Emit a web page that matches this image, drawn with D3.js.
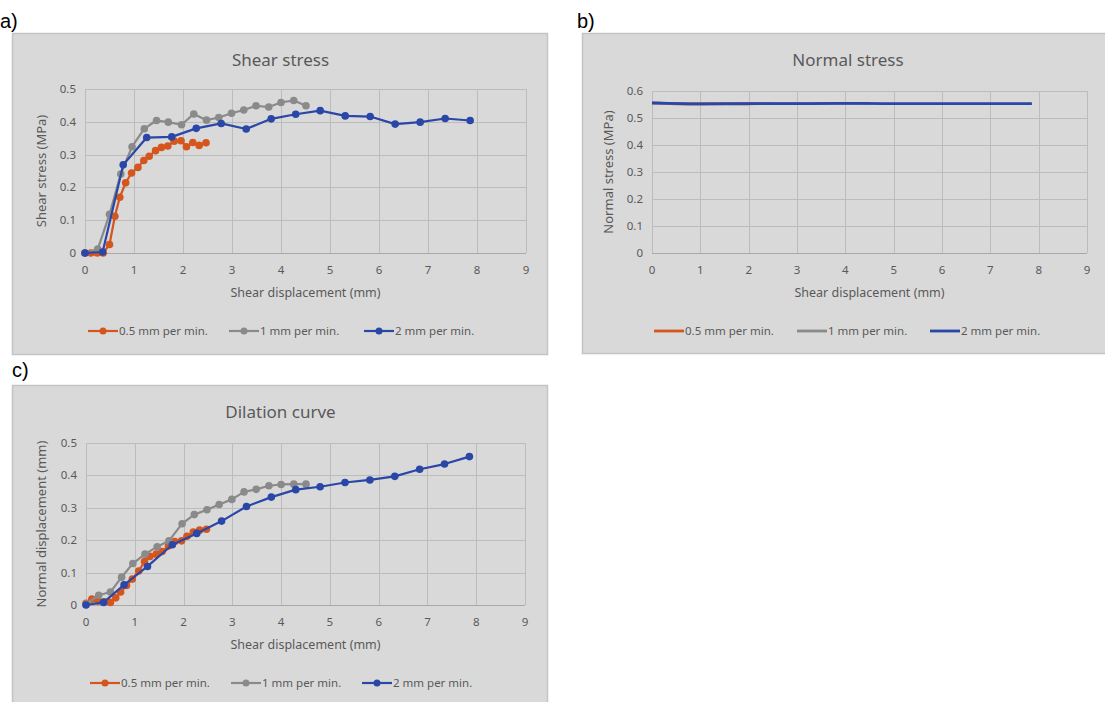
<!DOCTYPE html>
<html>
<head>
<meta charset="utf-8">
<script src="https://cdn.jsdelivr.net/npm/d3@7"></script>
<style>
  body { margin: 0; background: #fff; }
  text { font-family: "Noto Sans", "Open Sans", sans-serif; fill: #595959; }
  .panel-label { font-family: "Liberation Sans", Arial, sans-serif; fill: #000; font-size: 20px; }
</style>
</head>
<body>
<script>
// ---- data ----
var seriesNames = ["0.5 mm per min.", "1 mm per min.", "2 mm per min."];
var xTicks = [0, 1, 2, 3, 4, 5, 6, 7, 8, 9];

// 0.5 mm per min.
var dispSlow   = [0, 0.12, 0.25, 0.37, 0.5, 0.61, 0.71, 0.83, 0.95, 1.08, 1.2, 1.31, 1.44, 1.56, 1.69, 1.82, 1.96, 2.07, 2.2, 2.33, 2.47];
var shearSlow  = [0, 0, 0, 0, 0.026, 0.112, 0.17, 0.214, 0.244, 0.261, 0.282, 0.295, 0.312, 0.322, 0.326, 0.341, 0.342, 0.324, 0.337, 0.328, 0.336];
var normalSlow = [0.555, 0.555, 0.554, 0.553, 0.552, 0.552, 0.552, 0.552, 0.552, 0.552, 0.553, 0.553, 0.553, 0.553, 0.552, 0.552, 0.552, 0.553, 0.553, 0.553, 0.553];
var dilSlow    = [0.005, 0.018, 0.012, 0.01, 0.008, 0.022, 0.04, 0.06, 0.08, 0.105, 0.134, 0.15, 0.157, 0.165, 0.182, 0.196, 0.198, 0.212, 0.225, 0.231, 0.234];

// 1 mm per min.
var dispMid   = [0, 0.26, 0.5, 0.73, 0.96, 1.21, 1.46, 1.7, 1.97, 2.22, 2.48, 2.73, 2.99, 3.24, 3.49, 3.75, 4.0, 4.26, 4.51];
var shearMid  = [0, 0.012, 0.118, 0.241, 0.324, 0.379, 0.404, 0.399, 0.391, 0.424, 0.405, 0.413, 0.426, 0.436, 0.449, 0.445, 0.459, 0.465, 0.449];
var normalMid = [0.555, 0.554, 0.553, 0.552, 0.552, 0.552, 0.553, 0.552, 0.552, 0.553, 0.553, 0.553, 0.553, 0.553, 0.554, 0.554, 0.554, 0.554, 0.554];
var dilMid    = [0.003, 0.03, 0.04, 0.086, 0.128, 0.157, 0.18, 0.198, 0.251, 0.279, 0.294, 0.31, 0.326, 0.349, 0.357, 0.368, 0.372, 0.373, 0.373];

// 2 mm per min.
var dispFast   = [0, 0.36, 0.78, 1.26, 1.77, 2.27, 2.78, 3.29, 3.8, 4.3, 4.8, 5.31, 5.82, 6.33, 6.84, 7.35, 7.86];
var shearFast  = [0, 0.003, 0.269, 0.352, 0.354, 0.38, 0.395, 0.378, 0.409, 0.423, 0.434, 0.418, 0.416, 0.393, 0.399, 0.41, 0.404];
var normalFast = [0.556, 0.554, 0.552, 0.552, 0.553, 0.553, 0.553, 0.553, 0.554, 0.554, 0.553, 0.553, 0.553, 0.553, 0.553, 0.553, 0.553];
var dilFast    = [0, 0.008, 0.062, 0.119, 0.186, 0.221, 0.259, 0.304, 0.333, 0.356, 0.365, 0.378, 0.386, 0.397, 0.419, 0.435, 0.458];

var colors = ["#d4561d", "#8a8a8a", "#2a46a6"];

function zip(xs, ys) { return xs.map(function(x, i) { return [x, ys[i]]; }); }

var svg = d3.select("body").append("svg")
    .attr("width", 1105)
    .attr("height", 702);

var panels = [
  { label: "a)", lx: 0, ly: 28, box: [12, 33, 535, 321], x: [85, 526], y: [253, 89], yMax: 0.5,
    yTicks: [0, 0.1, 0.2, 0.3, 0.4, 0.5], title: "Shear stress", ytitle: "Shear stress (MPa)", ytx: 46,
    markers: true, legend: [88, 229, 364],
    data: [zip(dispSlow, shearSlow), zip(dispMid, shearMid), zip(dispFast, shearFast)] },
  { label: "b)", lx: 577, ly: 28, box: [582, 33, 530, 320], x: [652, 1087], y: [253, 91], yMax: 0.6,
    yTicks: [0, 0.1, 0.2, 0.3, 0.4, 0.5, 0.6], title: "Normal stress", ytitle: "Normal stress (MPa)", ytx: 613,
    markers: false, legend: [654, 797, 930],
    data: [zip(dispSlow, normalSlow), zip(dispMid, normalMid), zip(dispFast, normalFast)] },
  { label: "c)", lx: 12, ly: 377, box: [12, 385, 535, 330], x: [86, 525], y: [605, 443], yMax: 0.5,
    yTicks: [0, 0.1, 0.2, 0.3, 0.4, 0.5], title: "Dilation curve", ytitle: "Normal displacement (mm)", ytx: 46,
    markers: true, legend: [90, 231, 362],
    data: [zip(dispSlow, dilSlow), zip(dispMid, dilMid), zip(dispFast, dilFast)] }
];

panels.forEach(drawPanel);

function drawPanel(p) {
  var g = svg.append("g");

  svg.append("text")
      .attr("class", "panel-label")
      .attr("x", p.lx)
      .attr("y", p.ly)
      .text(p.label);

  g.append("rect")
      .attr("x", p.box[0] + 0.5)
      .attr("y", p.box[1] + 0.5)
      .attr("width", p.box[2])
      .attr("height", p.box[3])
      .attr("fill", "#d9d9d9")
      .attr("stroke", "#c4c4c4")
      .attr("stroke-width", 1.5);

  var x = d3.scaleLinear().domain([0, 9]).range(p.x);
  var y = d3.scaleLinear().domain([0, p.yMax]).range(p.y);

  // grid
  g.append("g").selectAll("line")
      .data(xTicks).enter().append("line")
      .attr("x1", function(d) { return Math.round(x(d)) + 0.5; })
      .attr("x2", function(d) { return Math.round(x(d)) + 0.5; })
      .attr("y1", p.y[0])
      .attr("y2", p.y[1])
      .attr("stroke", "#bcbcbc");

  g.append("g").selectAll("line")
      .data(p.yTicks).enter().append("line")
      .attr("x1", p.x[0])
      .attr("x2", p.x[1])
      .attr("y1", function(d) { return Math.round(y(d)) + 0.5; })
      .attr("y2", function(d) { return Math.round(y(d)) + 0.5; })
      .attr("stroke", function(d) { return d === 0 ? "#a8a8a8" : "#bcbcbc"; });

  // tick labels
  g.append("g").selectAll("text")
      .data(xTicks).enter().append("text")
      .attr("x", function(d) { return x(d); })
      .attr("y", p.y[0] + 21)
      .attr("text-anchor", "middle")
      .style("font-size", "11.5px")
      .text(function(d) { return d; });

  g.append("g").selectAll("text")
      .data(p.yTicks).enter().append("text")
      .attr("x", p.x[0] - 9)
      .attr("y", function(d) { return y(d) + 4; })
      .attr("text-anchor", "end")
      .style("font-size", "11.5px")
      .text(function(d) { return d === 0 ? "0" : d3.format(".1f")(d); });

  // titles
  var cx = (p.box[0] + p.box[0] + p.box[2]) / 2;
  g.append("text")
      .attr("x", cx + 1)
      .attr("y", p.box[1] + 33)
      .attr("text-anchor", "middle")
      .style("font-size", "17px")
      .text(p.title);

  g.append("text")
      .attr("x", (p.x[0] + p.x[1]) / 2)
      .attr("y", p.y[0] + 44)
      .attr("text-anchor", "middle")
      .style("font-size", "12.5px")
      .text("Shear displacement (mm)");

  g.append("text")
      .attr("transform", "translate(" + p.ytx + "," + (p.y[0] + p.y[1]) / 2 + ")rotate(-90)")
      .attr("text-anchor", "middle")
      .style("font-size", "13px")
      .text(p.ytitle);

  // series
  var line = d3.line()
      .x(function(d) { return x(d[0]); })
      .y(function(d) { return y(d[1]); });

  p.data.forEach(function(s, i) {
    g.append("path")
        .datum(s)
        .attr("d", line)
        .attr("fill", "none")
        .attr("stroke", colors[i])
        .attr("stroke-width", p.markers ? 2.2 : 2.8)
        .attr("stroke-linejoin", "round");

    if (p.markers) {
      g.append("g").selectAll("circle")
          .data(s).enter().append("circle")
          .attr("cx", function(d) { return x(d[0]); })
          .attr("cy", function(d) { return y(d[1]); })
          .attr("r", 3.8)
          .attr("fill", colors[i]);
    }
  });

  // legend
  var ly = p.y[0] + 78;
  seriesNames.forEach(function(name, i) {
    var lx = p.legend[i];
    g.append("line")
        .attr("x1", lx).attr("x2", lx + 30)
        .attr("y1", ly).attr("y2", ly)
        .attr("stroke", colors[i])
        .attr("stroke-width", p.markers ? 2.2 : 2.8);
    if (p.markers) {
      g.append("circle")
          .attr("cx", lx + 15).attr("cy", ly)
          .attr("r", 3.5)
          .attr("fill", colors[i]);
    }
    g.append("text")
        .attr("x", lx + 31)
        .attr("y", ly + 4)
        .style("font-size", "11.5px")
        .text(name);
  });
}
</script>
</body>
</html>
